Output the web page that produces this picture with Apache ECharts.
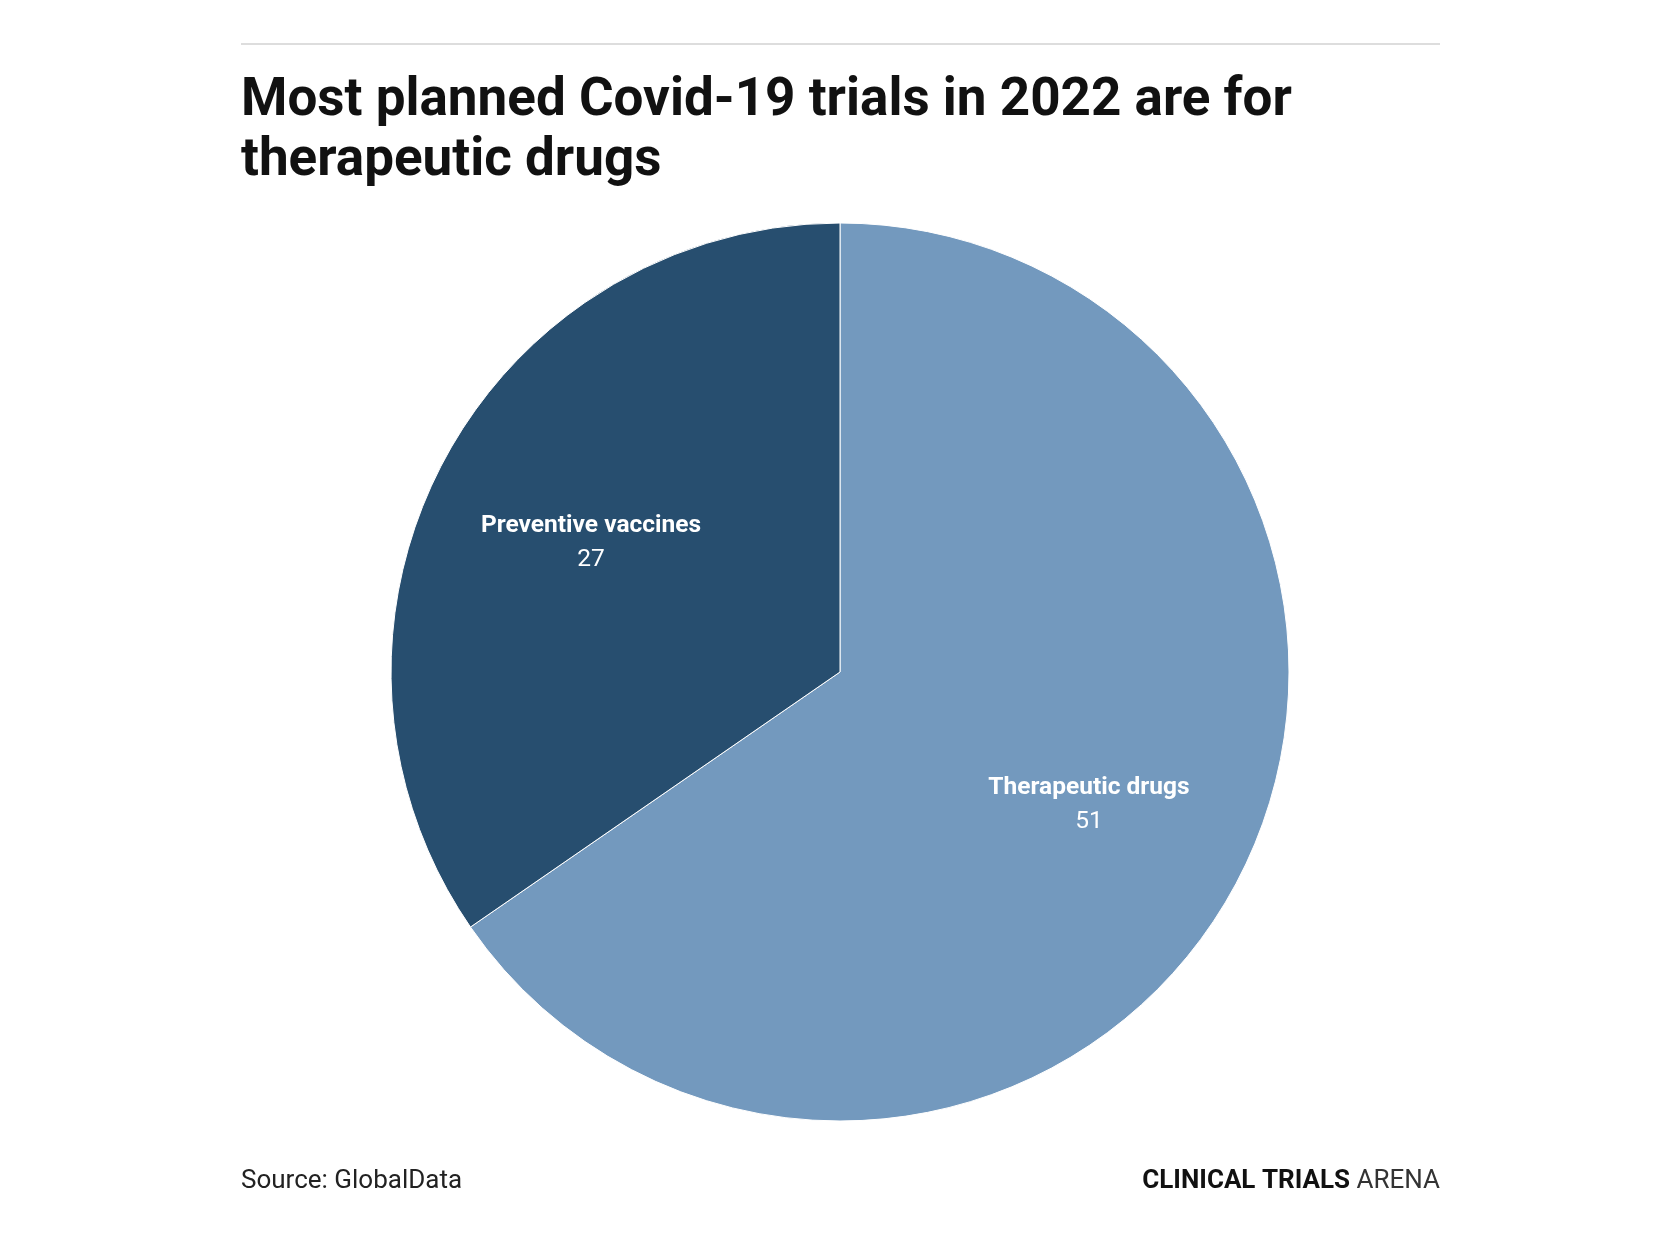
<!DOCTYPE html>
<html>
<head>
<meta charset="utf-8">
<script src="https://cdn.jsdelivr.net/npm/echarts@6/dist/echarts.min.js"></script>
<style>
  html, body { margin: 0; padding: 0; background: #ffffff; }
  #chart { width: 1653px; height: 1240px; }
</style>
</head>
<body>
<div id="chart"></div>
<script>
const titleText = 'Most planned Covid-19 trials in 2022 are for\ntherapeutic drugs';
const sourceText = 'Source: GlobalData';
const categories = ['Therapeutic drugs', 'Preventive vaccines'];
const values = [51, 27];
const sliceColors = ['#7399be', '#274e6f'];

const FONT = "Roboto, 'Noto Sans', sans-serif";
const CX = 840, CY = 672, R = 449;
const LABEL_FRAC = 0.618;

const chart = echarts.init(document.getElementById('chart'), null, { renderer: 'canvas' });

chart.setOption({
  backgroundColor: '#ffffff',
  animation: false,
  title: [
    {
      text: titleText,
      left: 241,
      top: 72,
      padding: 0,
      textStyle: { fontFamily: FONT, fontSize: 53, fontWeight: 'bold', lineHeight: 60, color: '#111111' }
    },
    {
      text: sourceText,
      left: 241,
      top: 1168,
      padding: 0,
      textStyle: { fontFamily: FONT, fontSize: 26, fontWeight: 'normal', color: '#222222' }
    },
    {
      text: '{b|CLINICAL TRIALS} {l|ARENA}',
      right: 213,
      top: 1168,
      padding: 0,
      textStyle: {
        fontFamily: FONT, fontSize: 26,
        rich: {
          b: { fontFamily: FONT, fontSize: 26, fontWeight: 'bold', color: '#111111' },
          l: { fontFamily: FONT, fontSize: 26, fontWeight: 'normal', color: '#333333' }
        }
      }
    }
  ],
  graphic: [
    { type: 'line', shape: { x1: 241, y1: 44, x2: 1440, y2: 44 }, style: { stroke: '#dddddd', lineWidth: 2 }, silent: true }
  ],
  series: [
    {
      type: 'pie',
      center: [CX, CY],
      radius: [0, R],
      startAngle: 90,
      clockwise: true,
      silent: true,
      itemStyle: { borderColor: '#ffffff', borderWidth: 1 },
      data: categories.map((c, i) => ({ name: c, value: values[i], itemStyle: { color: sliceColors[i] } })),
      label: {
        show: true,
        position: 'inside',
        formatter: '{n|{b}}\n{v|{c}}',
        rich: {
          n: { fontFamily: FONT, fontSize: 24.5, fontWeight: 'bold', color: '#ffffff', lineHeight: 34, align: 'center' },
          v: { fontFamily: FONT, fontSize: 24.5, fontWeight: 'normal', color: '#ffffff', lineHeight: 34, align: 'center' }
        }
      },
      labelLine: { show: false },
      labelLayout: function (p) {
        const r = p.labelRect;
        const lx = r.x + r.width / 2, ly = r.y + r.height / 2;
        const k = LABEL_FRAC / 0.5 - 1;
        return { dx: (lx - CX) * k, dy: (ly - CY) * k + 2 };
      }
    }
  ]
});
</script>
</body>
</html>
